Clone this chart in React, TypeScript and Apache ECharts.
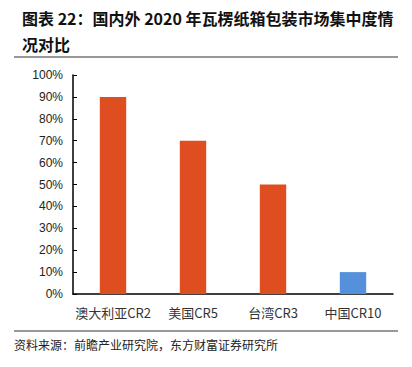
import React, { useEffect, useRef } from "react";
import * as echarts from "echarts";

const categories = ["澳大利亚CR2", "美国CR5", "台湾CR3", "中国CR10"];
const values = [90, 70, 50, 10];
const barColors = ["#DE4E20", "#DE4E20", "#DE4E20", "#5591DA"];
const yTicks = [0, 10, 20, 30, 40, 50, 60, 70, 80, 90, 100];
const titleLine1 = "图表 22：国内外 2020 年瓦楞纸箱包装市场集中度情";
const titleLine2 = "况对比";
const sourceText = "资料来源：前瞻产业研究院，东方财富证券研究所";

export default function App() {
  const ref = useRef<HTMLDivElement>(null);
  useEffect(() => {
    if (!ref.current) return;
    const chart = echarts.init(ref.current, null, { renderer: "svg" });
    chart.setOption({
      animation: false,
      backgroundColor: "#ffffff",
      grid: { left: 73, right: 19, top: 75, bottom: 73, containLabel: false },
      xAxis: {
        type: "category",
        data: categories,
        axisLine: { show: true, lineStyle: { color: "#000", width: 1.5 } },
        axisTick: { show: false },
        axisLabel: {
          interval: 0,
          color: "#333",
          fontSize: 13,
          margin: 12,
          fontFamily: "Noto Sans CJK SC, sans-serif",
        },
      },
      yAxis: {
        type: "value",
        min: yTicks[0],
        max: yTicks[yTicks.length - 1],
        interval: 10,
        splitLine: { show: false },
        axisLine: { show: true, lineStyle: { color: "#000", width: 1.5 } },
        axisTick: { show: true, inside: true, length: 4, lineStyle: { color: "#000" } },
        axisLabel: {
          formatter: (v: number) => v + "%",
          color: "#222",
          fontSize: 12,
          margin: 10,
          fontFamily: "Liberation Sans, Arial, sans-serif",
        },
      },
      series: [
        {
          type: "bar",
          barWidth: "33%",
          data: values.map((v, i) => ({ value: v, itemStyle: { color: barColors[i] } })),
        },
      ],
      graphic: [
        {
          type: "text",
          left: 22,
          top: 10,
          style: {
            text: titleLine1,
            font: "bold 16px 'Noto Sans CJK SC', sans-serif",
            fill: "#111",
          },
        },
        {
          type: "text",
          left: 22,
          top: 36,
          style: {
            text: titleLine2,
            font: "bold 16px 'Noto Sans CJK SC', sans-serif",
            fill: "#111",
          },
        },
        {
          type: "line",
          shape: { x1: 14, y1: 57, x2: 398, y2: 57 },
          style: { stroke: "#333", lineWidth: 1.2 },
        },
        {
          type: "line",
          shape: { x1: 14, y1: 331, x2: 398, y2: 331 },
          style: { stroke: "#333", lineWidth: 1 },
        },
        {
          type: "text",
          left: 14,
          top: 338,
          style: {
            text: sourceText,
            font: "12px 'Noto Sans CJK SC', sans-serif",
            fill: "#222",
          },
        },
      ],
    });
    return () => chart.dispose();
  }, []);
  return <div ref={ref} style={{ width: 412, height: 367, margin: -8 }} />;
}
